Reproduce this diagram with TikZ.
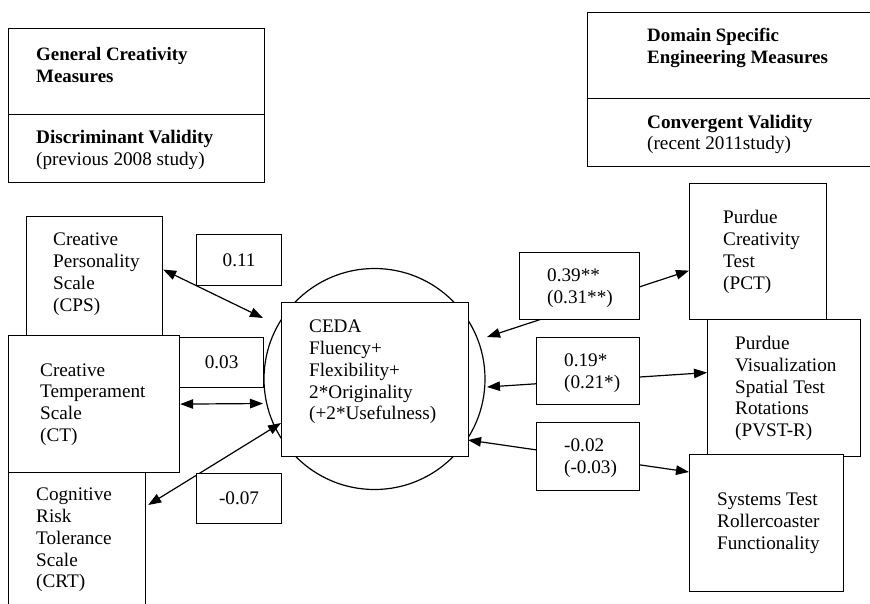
\documentclass[tikz,border=0pt]{standalone}
\usepackage{fontspec}
\setmainfont{Liberation Serif}
\usetikzlibrary{arrows.meta,calc}
\begin{document}
\begin{tikzpicture}[x=1pt,y=-1pt,
  box/.style={draw,fill=white,line width=1.2pt,inner sep=0pt,anchor=north west},
  txt/.style={align=left,anchor=west,inner sep=0pt,font=\fontsize{19.2}{21.8}\selectfont},
  lbl/.style={align=left,inner sep=0pt,font=\fontsize{19.2}{21.8}\selectfont},
  tip/.tip={Triangle[length=13pt,width=9.5pt]},
  conn/.style={line width=1.2pt,tip-tip}]
\clip (0,0) rectangle (870,603);
\fill[white] (0,0) rectangle (870,603);

% header boxes
\node[box,minimum width=256pt,minimum height=86pt] (gen) at (8,28) {};
\node[box,minimum width=256pt,minimum height=68pt] (disc) at (8,114) {};
\node[txt,font=\fontsize{18.9}{21.8}\selectfont\bfseries] (gent) at (36,65) {General Creativity\\Measures};
\node[txt] (disct) at (36,150) {\textbf{Discriminant Validity}\\(previous 2008 study)};

\node[box,minimum width=290pt,minimum height=86pt] (dom) at (587,12) {};
\node[box,minimum width=290pt,minimum height=68pt] (conv) at (587,98) {};
\node[txt,font=\fontsize{18.9}{21.8}\selectfont\bfseries] (domt) at (647,48) {Domain Specific\\Engineering Measures};
\node[txt] (convt) at (647,134.5) {\textbf{Convergent Validity}\\(recent 2011study)};

% circle and centre box
\node[draw,circle,line width=1.2pt,minimum size=221pt,inner sep=0pt] (circ) at (374.5,379) {};
\node[box,minimum width=187pt,minimum height=154pt] (ceda) at (281,302) {};
\node[txt] (cedat) at (309,372) {CEDA\\Fluency+\\Flexibility+\\2*Originality\\(+2*Usefulness)};

% left boxes
\node[box,minimum width=136pt,minimum height=119pt] (cps) at (26,216) {};
\node[txt] (cpst) at (53,274) {Creative\\Personality\\Scale\\(CPS)};
\node[box,minimum width=171pt,minimum height=137pt] (ct) at (8,335) {};
\node[txt] (ctt) at (40,404.5) {Creative\\Temperament\\Scale\\(CT)};
\node[box,minimum width=137pt,minimum height=140pt] (crt) at (8,472) {};
\node[txt] (crtt) at (36,540) {Cognitive\\Risk\\Tolerance\\Scale\\(CRT)};

% right boxes
\node[box,minimum width=137pt,minimum height=136pt] (pct) at (689,183) {};
\node[txt] (pctt) at (723,252) {Purdue\\Creativity\\Test\\(PCT)};
\node[box,minimum width=153pt,minimum height=137pt] (pvst) at (707,319) {};
\node[txt] (pvstt) at (735,388.5) {Purdue\\Visualization\\Spatial Test\\Rotations\\(PVST-R)};
\node[box,minimum width=154pt,minimum height=137pt] (sys) at (689,454) {};
\node[txt] (syst) at (717,523) {Systems Test\\Rollercoaster\\Functionality};

% coordinates at the circle side
\coordinate (c1) at (263,318);
\coordinate (c2) at (263,403.5);
\coordinate (c3) at (281,423);
\coordinate (r1) at (487,337);
\coordinate (r2) at (487,387);
\coordinate (r3) at (468,440);

% connectors (behind label boxes)
\draw[conn] ($(cps.east)+(0,-6.5)$) -- (c1);
\draw[conn] (ct.east) -- (c2);
\draw[conn] ($(crt.north east)+(2,33)$) -- (c3);
\draw[conn] (r1) -- ($(pct.west)+(0,19)$);
\draw[conn] (r2) -- ($(pvst.west)+(0,-15.5)$);
\draw[conn] (r3) -- ($(sys.north west)+(0,18)$);

% label boxes
\node[box,minimum width=85pt,minimum height=51pt] (l11) at (196,234) {};
\node[lbl] at (l11.center) {0.11};
\node[box,minimum width=84pt,minimum height=50pt] (l03) at (179,337) {};
\node[lbl] at (l03.center) {0.03};
\node[box,minimum width=85pt,minimum height=50pt] (l07) at (196,473) {};
\node[lbl] at (l07.center) {-0.07};

\node[box,minimum width=120pt,minimum height=67pt] (l39) at (519,252) {};
\node[txt] (l39t) at (547,288) {0.39**\\(0.31**)};
\node[box,minimum width=103pt,minimum height=67pt] (l19) at (536,337) {};
\node[txt] (l19t) at (564,373) {0.19*\\(0.21*)};
\node[box,minimum width=103pt,minimum height=68pt] (l02) at (536,422) {};
\node[txt] (l02t) at (564,458) {-0.02\\(-0.03)};
\end{tikzpicture}
\end{document}
